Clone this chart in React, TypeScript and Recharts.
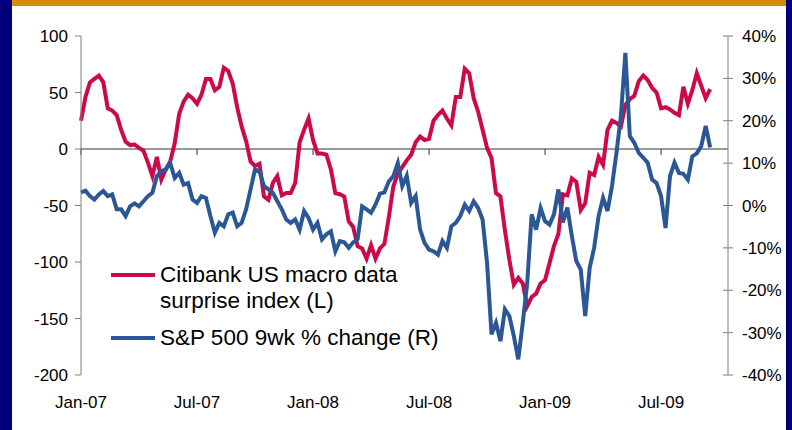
import React from 'react';
import { LineChart, Line, XAxis, YAxis, ReferenceLine, Legend } from 'recharts';

// Weekly observations, starting first week of Jan-2007
const surprise: number[] = [
  25, 46, 59, 62, 65, 59, 36, 34, 30, 17,
  6.5, 3.5, 4, 1, -1.5, -12, -24, -7, -27, -18,
  -11, 5, 31, 42, 48, 45, 40, 48, 62, 62,
  52, 55, 72, 69, 58, 37, 20, 7, -11, -15,
  -13, -42, -45, -30, -24, -41, -39, -39, -30, 6,
  17, 27, 8, -4, -4, -5, -18, -39, -40, -42,
  -64, -69, -86, -88, -97, -85, -97, -88, -84, -60,
  -33, -22, -16, -10, -5, 6, 11, 8, 9, 25,
  30, 34, 27, 21, 46, 46, 71, 67, 45, 33,
  17, 1, -8, -39, -42, -72, -98, -120, -114, -119,
  -139, -131, -128, -119, -116, -101, -86, -75, -40, -41,
  -26, -29, -54, -48, -21, -23, -7, -14, 17, 25,
  23, 20, 39, 44, 47, 60, 65, 61, 54, 50,
  36, 37, 35, 32, 30, 55, 40, 52, 67, 56,
  45, 53,
];

const spx9wk: number[] = [
  3.1, 3.5, 2.2, 1.4, 2.6, 3.4, 2.2, 2.6, -0.9, -0.9,
  -2.5, -0.2, 0.5, -0.2, 1.0, 2.2, 3, 6.9, 8.1, 8.5,
  10, 6.5, 7.7, 4.9, 5.3, 1.4, 0.6, 2.2, 1.8, -2.5,
  -6.4, -4.1, -4.9, -2.1, -1.7, -4.9, -4.1, -0.9, 3.8, 8.5,
  8.1, 4.6, 3.8, 3.0, 1.0, -0.9, -3.3, -4.1, -3.3, -5.7,
  -1.3, -2.9, -5.7, -4.1, -8, -6.8, -6.1, -10.8, -8.4, -8.7,
  -10, -8.7, -7.9, -0.2, -0.9, -1.7, 0.2, 2.8, 3.1, 5.7,
  6.9, 10, 4.6, 7, 0.6, 2.2, -5.7, -8.8, -10.4, -10.8,
  -11.6, -8.4, -10, -4.9, -4.1, -2.5, 0.2, -1.3, 1.0, -0.6,
  -3.3, -13.5, -30.4, -27.7, -32, -24.5, -26.1, -30.8, -36.3, -27.7,
  -18.3, -2.1, -5.7, -0.6, -3.7, -4.5, -2.1, 3.8, -4, -0.5,
  -7.2, -13.1, -15.1, -26.1, -14.7, -10, -2.5, 1.8, -1.3, 4.6,
  12.4, 21.1, 36, 16.4, 14.8, 12.4, 11.3, 10.1, 6.1, 5.3,
  2.2, -5.3, 6.9, 10.1, 7.7, 7.5, 6.1, 11.6, 12.3, 14,
  18.8, 13.7,
];

const xTickWeeks: number[] = [0, 26, 52, 78, 104, 130];
const xTickLabels: string[] = ['Jan-07', 'Jul-07', 'Jan-08', 'Jul-08', 'Jan-09', 'Jul-09'];
const leftTicks: number[] = [-200, -150, -100, -50, 0, 50, 100];
const rightTicks: number[] = [-40, -30, -20, -10, 0, 10, 20, 30, 40];

const seriesNames = {
  surprise: 'Citibank US macro data surprise index (L)',
  spx: 'S&P 500 9wk % change (R)',
};

const data = surprise.map((v, i) => ({ week: i, surprise: v, spx: spx9wk[i] }));

const RED = '#cc0a4b';
const BLUE = '#2b5797';
const FONT = '"Liberation Sans", Arial, sans-serif';
const AXIS = '#7f7f7f';

const RightTick = (props: any) => {
  const { x, y, payload } = props;
  const axisX = x - 9 - 5;
  return (
    <g>
      <line x1={axisX - 5} x2={axisX} y1={y} y2={y} stroke={AXIS} />
      <text x={x} y={y} dy="0.355em" textAnchor="start" fontSize={17} fontFamily={FONT} fill="#000">
        {`${payload.value}%`}
      </text>
    </g>
  );
};

const renderLegend = (props: any) => {
  const { payload } = props;
  return (
    <div style={{ fontFamily: FONT, fontSize: 22.5, color: '#000' }}>
      {payload.map((entry: any, i: number) => (
        <div key={i} style={{ display: 'flex', alignItems: 'flex-start', marginBottom: 11 }}>
          <div style={{ width: 44, height: 4, background: entry.color, marginTop: 11, marginRight: 5, flexShrink: 0 }} />
          <div style={{ lineHeight: '26px', width: i === 0 ? 255 : undefined, whiteSpace: i === 0 ? 'normal' : 'nowrap' }}>
            {entry.value}
          </div>
        </div>
      ))}
    </div>
  );
};

export default function App() {
  return (
    <div style={{ position: 'absolute', left: 0, top: 0, width: 792, height: 430, background: '#00007c', overflow: 'hidden' }}>
      <div style={{ position: 'absolute', left: 12, top: 0, width: 774, height: 430, background: '#fff' }} />
      <div style={{ position: 'absolute', left: 12, top: 0, width: 774, height: 6, background: '#d98b0d' }} />
      <div style={{ position: 'absolute', left: 0, top: 0 }}>
        <LineChart width={792} height={430} data={data} margin={{ top: 36, right: 4, bottom: 15, left: 21 }}>
          <XAxis
            xAxisId="x"
            dataKey="week"
            type="number"
            domain={[0, 145]}
            ticks={xTickWeeks}
            tickFormatter={(v: number) => xTickLabels[xTickWeeks.indexOf(v)]}
            axisLine={false}
            tickLine={false}
            tickMargin={15}
            height={40}
            interval={0}
            tick={{ fontSize: 17, fontFamily: FONT, fill: '#000' }}
          />
          <YAxis
            yAxisId="left"
            orientation="left"
            domain={[-200, 100]}
            ticks={leftTicks}
            width={60}
            stroke={AXIS}
            tickSize={6}
            tickMargin={7}
            interval={0}
            tick={{ fontSize: 17, fontFamily: FONT, fill: '#000' }}
          />
          <YAxis
            yAxisId="right"
            orientation="right"
            domain={[-40, 40]}
            ticks={rightTicks}
            width={60}
            stroke={AXIS}
            tickSize={5}
            tickMargin={9}
            interval={0}
            tick={<RightTick />}
          />
          <ReferenceLine xAxisId="x" yAxisId="left" y={0} stroke="#333" strokeWidth={1} />
          {xTickWeeks.map((w) => (
            <ReferenceLine
              key={w}
              xAxisId="x"
              yAxisId="left"
              segment={[{ x: w, y: 0 }, { x: w, y: -5.3 }]}
              stroke="#333"
              strokeWidth={1}
            />
          ))}
          <Line
            xAxisId="x"
            yAxisId="left"
            type="linear"
            dataKey="surprise"
            name={seriesNames.surprise}
            stroke={RED}
            strokeWidth={4}
            dot={false}
            isAnimationActive={false}
          />
          <Line
            xAxisId="x"
            yAxisId="right"
            type="linear"
            dataKey="spx"
            name={seriesNames.spx}
            stroke={BLUE}
            strokeWidth={4}
            dot={false}
            isAnimationActive={false}
          />
          <Legend
            layout="horizontal"
            verticalAlign="middle"
            align="center"
            content={renderLegend}
            wrapperStyle={{ left: 111, top: 262, width: 330 }}
          />
        </LineChart>
      </div>
    </div>
  );
}
